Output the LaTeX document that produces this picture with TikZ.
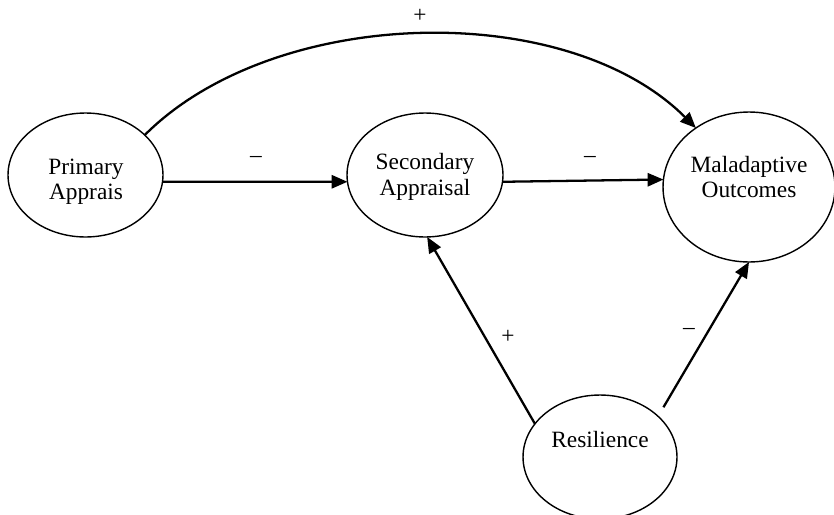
\documentclass[tikz,border=0pt]{standalone}
\usepackage{fontspec}
\setmainfont{Liberation Serif}
\usetikzlibrary{arrows.meta}
\usetikzlibrary{shapes.geometric}

\tikzset{
    blob/.style={draw, ellipse, line width=0.8pt, inner sep=0pt, outer sep=0pt},
    blobtext/.style={align=center, font=\fontsize{13.3}{14.5}\selectfont},
    sign/.style={font=\fontsize{13.3}{14.5}\selectfont},
    arr/.style={line width=1.3pt, -{Triangle[length=9pt,width=7.5pt]}}
}

\begin{document}
\begin{tikzpicture}[x=0.02cm,y=-0.02cm]
    \useasboundingbox (0,0) rectangle (834,514);
    \node[blob, minimum width=3.1cm, minimum height=2.48cm] (pa) at (85.5,175) {};
    \node[blob, minimum width=3.12cm, minimum height=2.48cm] (sa) at (425,175) {};
    \node[blob, minimum width=3.44cm, minimum height=3cm] (ma) at (749,187) {};
    \node[blob, minimum width=3.08cm, minimum height=2.48cm] (res) at (600,457) {};
    \node[blobtext] (pa-txt) at (86,182) {Primary\\Apprais};
    \node[blobtext] (sa-txt) at (425,177) {Secondary\\Appraisal};
    \node[blobtext] (ma-txt) at (749,177) {Maladaptive\\Outcomes};
    \node[blobtext] (res-txt) at (600,439) {Resilience};
    \draw[arr] (pa.-5) -- (sa.185);
    \draw[arr] (sa.-5) -- (ma.175);
    \draw[arr] (pa.34)
      to [out=45,in=135,looseness=0.85] (ma.132);
    \draw[arr] (res.153) -- (sa.-88);
    \draw[arr, shorten <=6pt] (res.35) -- (ma.-90);
    \node[sign] (s-top) at (420,16) {+};
    \node[sign] (s-ps) at (256,159) {–};
    \node[sign] (s-sm) at (590,159) {–};
    \node[sign] (s-rs) at (508,337) {+};
    \node[sign] (s-rm) at (689,331) {–};
\end{tikzpicture}
\end{document}
